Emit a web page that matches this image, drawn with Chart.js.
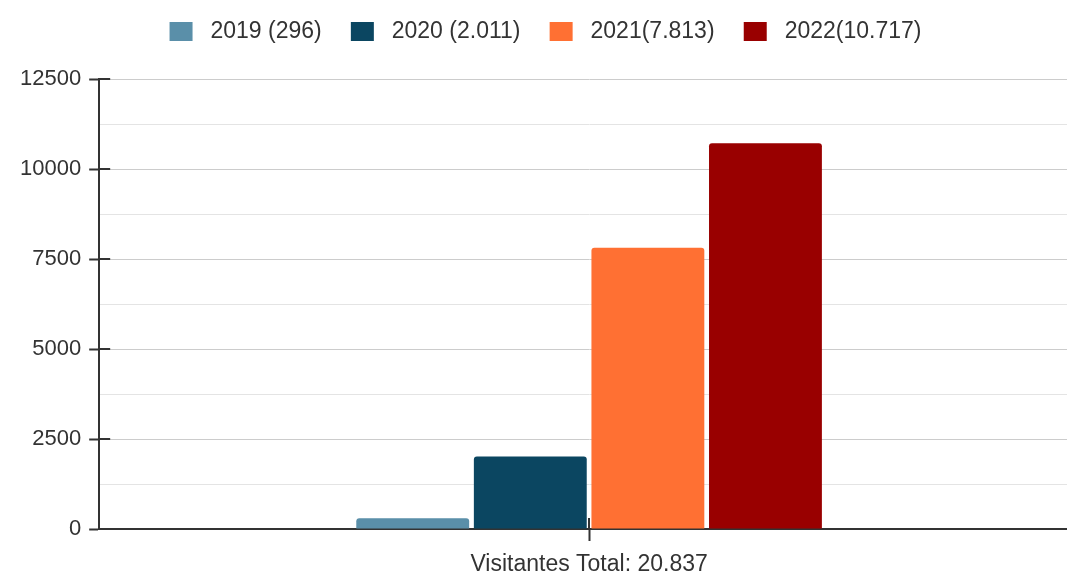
<!DOCTYPE html>
<html>
<head>
<meta charset="utf-8">
<script src="https://cdn.jsdelivr.net/npm/chart.js@4"></script>
<style>
  html, body { margin: 0; padding: 0; background: #fff; overflow: hidden; }
  #wrap { width: 1079px; height: 574px; }
</style>
</head>
<body>
<div id="wrap"><canvas id="visitorsChart"></canvas></div>
<script>
const categories = ['Visitantes Total: 20.837'];
const seriesLabels = ['2019 (296)', '2020 (2.011)', '2021(7.813)', '2022(10.717)'];
const seriesValues = [296, 2011, 7813, 10717];
const seriesColors = ['#5a8fa9', '#0b4661', '#ff7033', '#990000'];
const yTicks = [0, 2500, 5000, 7500, 10000, 12500];

const font = 'Arial, "Liberation Sans", sans-serif';
const isMajor = v => v % 2500 === 0;

const datasets = seriesLabels.map((label, i) => ({
  label,
  data: [seriesValues[i]],
  backgroundColor: seriesColors[i],
  borderRadius: 3,
  borderSkipped: 'start',
  barPercentage: 0.96,
  categoryPercentage: 0.48,
}));

// extra room under the legend
const legendGap = {
  id: 'legendGap',
  beforeInit(chart) {
    const origFit = chart.legend.fit;
    chart.legend.fit = function () {
      origFit.bind(chart.legend)();
      this.height += 26;
    };
  },
};

// the y tick marks cross the axis line a little
const innerTicks = {
  id: 'innerTicks',
  afterDraw(chart) {
    const y = chart.scales.y;
    const c = chart.ctx;
    c.save();
    c.strokeStyle = '#333';
    c.lineWidth = 2;
    yTicks.forEach(v => {
      if (v === 0) return;
      const py = Math.round(y.getPixelForValue(v));
      c.beginPath();
      c.moveTo(y.right, py);
      c.lineTo(y.right + 11, py);
      c.stroke();
    });
    const x = chart.scales.x;
    const px = Math.round(x.getPixelForValue(0));
    c.beginPath();
    c.moveTo(px, x.top);
    c.lineTo(px, x.top - 11);
    c.stroke();
    c.restore();
  },
};

const ctx = document.getElementById('visitorsChart').getContext('2d');
new Chart(ctx, {
  type: 'bar',
  data: { labels: categories, datasets },
  plugins: [legendGap, innerTicks],
  options: {
    responsive: true,
    maintainAspectRatio: false,
    animation: false,
    layout: { padding: { top: 10, left: 12, right: 0, bottom: -14 } },
    scales: {
      x: {
        grid: { offset: false, drawOnChartArea: false, drawTicks: true, tickLength: 12, tickColor: '#333', tickWidth: 2 },
        border: { color: '#333', width: 2 },
        ticks: { color: '#333', font: { family: font, size: 23, lineHeight: 1 }, padding: 12 },
      },
      y: {
        min: 0,
        max: yTicks[yTicks.length - 1],
        ticks: {
          stepSize: 1250,
          color: '#333',
          font: { family: font, size: 22 },
          padding: 8,
          autoSkip: false,
          callback: v => (isMajor(v) && yTicks.includes(v) ? String(v) : ''),
        },
        grid: {
          color: c => (isMajor(c.tick.value) ? '#cccccc' : '#e4e4e4'),
          tickColor: c => (isMajor(c.tick.value) ? '#333' : 'rgba(0,0,0,0)'),
          tickLength: 10,
          tickWidth: 2,
        },
        border: { color: '#333', width: 2 },
      },
    },
    plugins: {
      legend: {
        display: true,
        position: 'top',
        labels: {
          color: '#333',
          font: { family: font, size: 23 },
          boxWidth: 23,
          boxHeight: 19,
          padding: 10,
          generateLabels(chart) {
            const items = Chart.defaults.plugins.legend.labels.generateLabels(chart);
            items.forEach((it, i) => {
              it.text = ' ' + it.text + (i < items.length - 1 ? '   ' : '');
            });
            return items;
          },
        },
      },
      tooltip: { enabled: false },
    },
  },
});
</script>
</body>
</html>
